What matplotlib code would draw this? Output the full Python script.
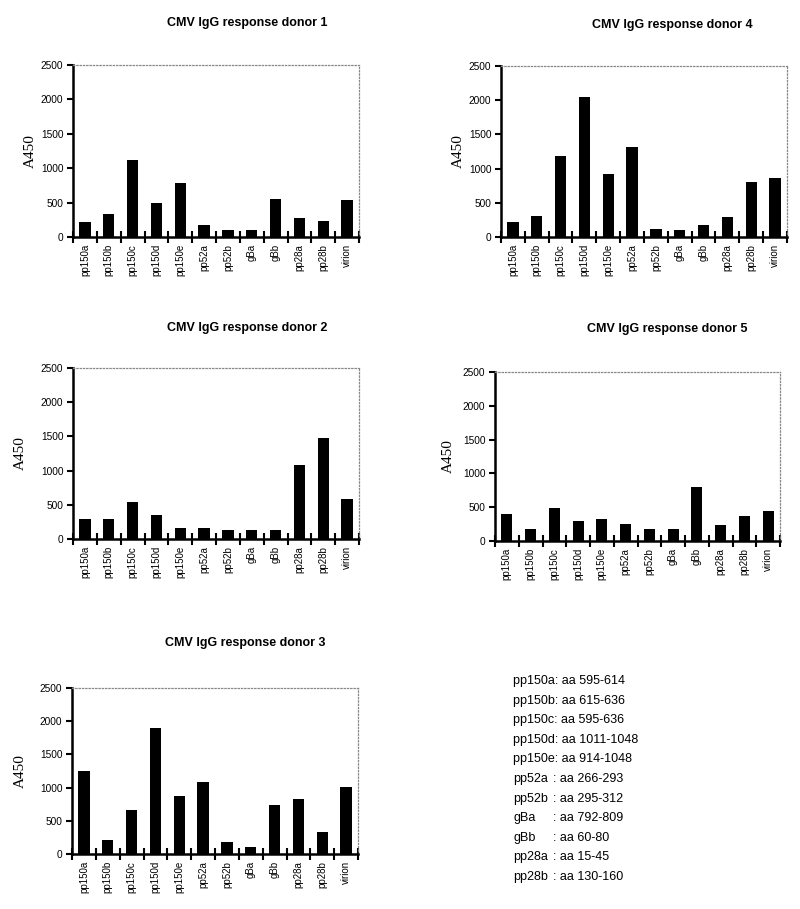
import numpy as np
import matplotlib
matplotlib.use('Agg')
import matplotlib.pyplot as plt

# Peptide categories on the x axis
peptides = ['pp150a', 'pp150b', 'pp150c', 'pp150d', 'pp150e', 'pp52a',
            'pp52b', 'gBa', 'gBb', 'pp28a', 'pp28b', 'virion']

# A450 readings per donor
donor1 = [218, 330, 1117, 490, 786, 170, 107, 107, 549, 272, 233, 534]
donor2 = [291, 291, 544, 345, 165, 165, 131, 131, 131, 1083, 1476, 587]
donor3 = [1252, 210, 661, 1899, 877, 1082, 185, 105, 741, 827, 326, 1012]
donor4 = [225, 303, 1182, 2041, 923, 1309, 117, 107, 171, 288, 811, 869]
donor5 = [404, 178, 488, 296, 321, 257, 173, 183, 794, 242, 370, 449]

y_ticks = [0, 500, 1000, 1500, 2000, 2500]

# Peptide key (lower right)
key_names = ['pp150a', 'pp150b', 'pp150c', 'pp150d', 'pp150e', 'pp52a',
             'pp52b', 'gBa', 'gBb', 'pp28a', 'pp28b']
key_ranges = ['aa 595-614', 'aa 615-636', 'aa 595-636', 'aa 1011-1048',
              'aa 914-1048', 'aa 266-293', 'aa 295-312', 'aa 792-809',
              'aa 60-80', 'aa 15-45', 'aa 130-160']

W, H = 800, 909
fig = plt.figure(figsize=(W / 100, H / 100), dpi=100)
plt.rcParams['font.family'] = ['Liberation Sans', 'DejaVu Sans']


def px_axes(left, top, right, bottom):
    return fig.add_axes([left / W, 1 - bottom / H, (right - left) / W, (bottom - top) / H])


def draw_panel(box, values, title, title_xy, ylabel_x):
    ax = px_axes(*box)
    x = np.arange(len(peptides))
    ax.bar(x, values, width=0.47, color='black')
    ax.set_xlim(-0.5, len(peptides) - 0.5)
    ax.set_ylim(0, 2500)
    ax.set_yticks(y_ticks)
    ax.tick_params(axis='y', direction='out', length=4, width=1.5, labelsize=7.3, pad=3)

    # ticks between categories, labels at category centres
    ax.set_xticks(np.arange(len(peptides) + 1) - 0.5)
    ax.set_xticklabels([])
    ax.tick_params(axis='x', which='major', direction='inout', length=8, width=1.5)
    ax.set_xticks(x, minor=True)
    ax.set_xticklabels(peptides, minor=True, rotation=90, fontsize=7)
    ax.tick_params(axis='x', which='minor', length=0, pad=5)

    for side in ['left', 'bottom']:
        ax.spines[side].set_linewidth(1.8)
    for side in ['top', 'right']:
        ax.spines[side].set_linestyle(':')
        ax.spines[side].set_color('#888888')
        ax.spines[side].set_linewidth(0.9)

    fig.text(title_xy[0] / W, 1 - title_xy[1] / H, title, ha='center', va='center',
             fontsize=9, fontweight='bold')
    fig.text(ylabel_x / W, 1 - ((box[1] + box[3]) / 2) / H, 'A450', rotation=90,
             ha='center', va='center', fontsize=11, family='Liberation Serif')
    return ax


draw_panel((73, 65, 359, 237), donor1, 'CMV IgG response donor 1', (247, 23), 30)
draw_panel((501, 66, 787, 237), donor4, 'CMV IgG response donor 4', (672, 25), 458)
draw_panel((73, 368, 359, 539), donor2, 'CMV IgG response donor 2', (247, 328), 20)
draw_panel((495, 372, 780, 541), donor5, 'CMV IgG response donor 5', (667, 329), 448)
draw_panel((72, 688, 358, 854), donor3, 'CMV IgG response donor 3', (245, 643), 20)

# Peptide key
for i, (name, rng) in enumerate(zip(key_names, key_ranges)):
    y = 1 - (681 + i * 19.6) / H
    if name.startswith('pp150'):
        fig.text(513 / W, y, f'{name}: {rng}', ha='left', va='center', fontsize=9)
    else:
        fig.text(513 / W, y, name, ha='left', va='center', fontsize=9)
        fig.text(553 / W, y, f': {rng}', ha='left', va='center', fontsize=9)

fig.savefig('out.png', dpi=100)
